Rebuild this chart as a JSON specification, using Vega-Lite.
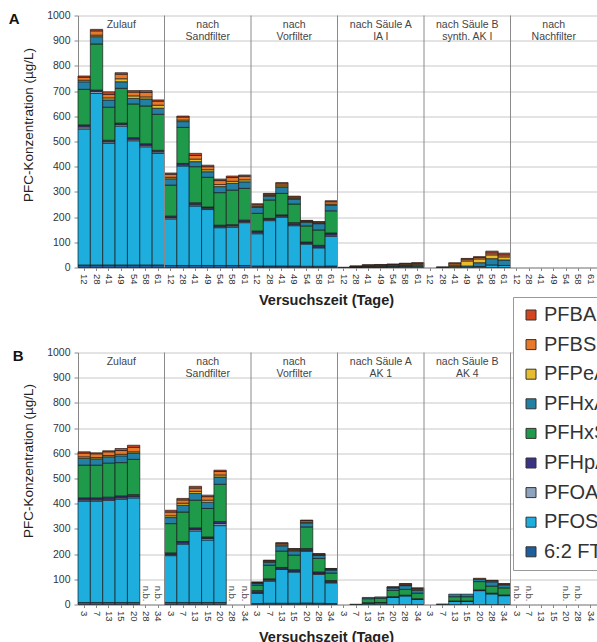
{
 "$schema": "https://vega.github.io/schema/vega-lite/v6.json",
 "padding": {"left": 8, "top": 10.5, "right": 0, "bottom": 0},
 "background": "white",
 "config": {
  "font": "Liberation Sans",
  "view": {"stroke": null},
  "axis": {"labelFont": "Liberation Sans", "titleFont": "Liberation Sans", "labelColor": "#333", "titleColor": "#222", "domainColor": "#888", "tickColor": "#888"},
  "axisY": {"format": "d", "labelFontSize": 10.5, "tickSize": 4, "labelPadding": 4, "titleFontSize": 13.5, "titleFontWeight": "normal", "titlePadding": 11, "grid": true, "gridColor": "#c8c8c8", "labelOverlap": false},
  "axisX": {"labelFontSize": 9.5, "labelPadding": 3, "tickSize": 3, "grid": false, "titleFontSize": 14.5, "titleFontWeight": "bold", "titlePadding": 9},
  "concat": {"spacing": 40}
 },
 "datasets": {
  "order": [
   {"c": "6:2 FTS", "o": 1}, {"c": "PFOS", "o": 2}, {"c": "PFOA", "o": 3}, {"c": "PFHpA", "o": 4}, {"c": "PFHxS", "o": 5},
   {"c": "PFHxA", "o": 6}, {"c": "PFPeA", "o": 7}, {"c": "PFBS", "o": 8}, {"c": "PFBA", "o": 9}
  ],
  "a": [
   {"k": "1|12", "6:2 FTS": 10, "PFOS": 540, "PFOA": 8, "PFHpA": 8, "PFHxS": 141, "PFHxA": 30, "PFPeA": 6, "PFBS": 12, "PFBA": 5},
   {"k": "1|28", "6:2 FTS": 10, "PFOS": 681, "PFOA": 8, "PFHpA": 5, "PFHxS": 183, "PFHxA": 29, "PFPeA": 6, "PFBS": 17, "PFBA": 6},
   {"k": "1|41", "6:2 FTS": 10, "PFOS": 483, "PFOA": 6, "PFHpA": 6, "PFHxS": 131, "PFHxA": 29, "PFPeA": 8, "PFBS": 14, "PFBA": 10},
   {"k": "1|49", "6:2 FTS": 10, "PFOS": 551, "PFOA": 6, "PFHpA": 6, "PFHxS": 138, "PFHxA": 26, "PFPeA": 12, "PFBS": 18, "PFBA": 6},
   {"k": "1|54", "6:2 FTS": 10, "PFOS": 493, "PFOA": 6, "PFHpA": 6, "PFHxS": 134, "PFHxA": 22, "PFPeA": 10, "PFBS": 15, "PFBA": 6},
   {"k": "1|58", "6:2 FTS": 10, "PFOS": 469, "PFOA": 6, "PFHpA": 6, "PFHxS": 150, "PFHxA": 28, "PFPeA": 8, "PFBS": 18, "PFBA": 7},
   {"k": "1|61", "6:2 FTS": 10, "PFOS": 443, "PFOA": 6, "PFHpA": 6, "PFHxS": 143, "PFHxA": 24, "PFPeA": 12, "PFBS": 16, "PFBA": 5},
   {"k": "2|12", "6:2 FTS": 8, "PFOS": 185, "PFOA": 5, "PFHpA": 6, "PFHxS": 123, "PFHxA": 25, "PFPeA": 6, "PFBS": 12, "PFBA": 5},
   {"k": "2|28", "6:2 FTS": 8, "PFOS": 395, "PFOA": 4, "PFHpA": 6, "PFHxS": 143, "PFHxA": 23, "PFPeA": 6, "PFBS": 12, "PFBA": 4},
   {"k": "2|41", "6:2 FTS": 8, "PFOS": 236, "PFOA": 5, "PFHpA": 8, "PFHxS": 143, "PFHxA": 20, "PFPeA": 10, "PFBS": 15, "PFBA": 8},
   {"k": "2|49", "6:2 FTS": 8, "PFOS": 222, "PFOA": 5, "PFHpA": 5, "PFHxS": 118, "PFHxA": 22, "PFPeA": 8, "PFBS": 12, "PFBA": 6},
   {"k": "2|54", "6:2 FTS": 8, "PFOS": 150, "PFOA": 4, "PFHpA": 6, "PFHxS": 129, "PFHxA": 24, "PFPeA": 8, "PFBS": 16, "PFBA": 6},
   {"k": "2|58", "6:2 FTS": 8, "PFOS": 152, "PFOA": 5, "PFHpA": 5, "PFHxS": 137, "PFHxA": 27, "PFPeA": 8, "PFBS": 15, "PFBA": 6},
   {"k": "2|61", "6:2 FTS": 8, "PFOS": 170, "PFOA": 4, "PFHpA": 6, "PFHxS": 126, "PFHxA": 26, "PFPeA": 8, "PFBS": 14, "PFBA": 5},
   {"k": "3|12", "6:2 FTS": 6, "PFOS": 128, "PFOA": 4, "PFHpA": 7, "PFHxS": 70, "PFHxA": 25, "PFPeA": 3, "PFBS": 6, "PFBA": 4},
   {"k": "3|28", "6:2 FTS": 6, "PFOS": 180, "PFOA": 4, "PFHpA": 5, "PFHxS": 73, "PFHxA": 15, "PFPeA": 3, "PFBS": 5, "PFBA": 3},
   {"k": "3|41", "6:2 FTS": 6, "PFOS": 194, "PFOA": 4, "PFHpA": 5, "PFHxS": 85, "PFHxA": 25, "PFPeA": 5, "PFBS": 8, "PFBA": 5},
   {"k": "3|49", "6:2 FTS": 6, "PFOS": 160, "PFOA": 4, "PFHpA": 8, "PFHxS": 74, "PFHxA": 20, "PFPeA": 3, "PFBS": 5, "PFBA": 3},
   {"k": "3|54", "6:2 FTS": 5, "PFOS": 88, "PFOA": 3, "PFHpA": 5, "PFHxS": 64, "PFHxA": 15, "PFPeA": 2, "PFBS": 3, "PFBA": 2},
   {"k": "3|58", "6:2 FTS": 5, "PFOS": 73, "PFOA": 3, "PFHpA": 7, "PFHxS": 61, "PFHxA": 25, "PFPeA": 2, "PFBS": 4, "PFBA": 2},
   {"k": "3|61", "6:2 FTS": 6, "PFOS": 118, "PFOA": 5, "PFHpA": 8, "PFHxS": 88, "PFHxA": 22, "PFPeA": 4, "PFBS": 10, "PFBA": 4},
   {"k": "4|12", "PFBS": 1},
   {"k": "4|28", "PFHxS": 1, "PFHxA": 1, "PFPeA": 1, "PFBS": 2, "PFBA": 1},
   {"k": "4|41", "PFHxS": 2, "PFHxA": 2, "PFPeA": 2, "PFBS": 3, "PFBA": 2},
   {"k": "4|49", "PFHxS": 2, "PFHxA": 3, "PFPeA": 2, "PFBS": 3, "PFBA": 2},
   {"k": "4|54", "PFHxS": 3, "PFHxA": 3, "PFPeA": 3, "PFBS": 3, "PFBA": 2},
   {"k": "4|58", "PFHxS": 4, "PFHxA": 4, "PFPeA": 3, "PFBS": 4, "PFBA": 2},
   {"k": "4|61", "PFHxS": 5, "PFHxA": 4, "PFPeA": 4, "PFBS": 4, "PFBA": 2},
   {"k": "5|28", "PFPeA": 1, "PFBS": 1},
   {"k": "5|41", "PFHxA": 4, "PFPeA": 5, "PFBS": 6, "PFBA": 4},
   {"k": "5|49", "PFHxA": 6, "PFPeA": 20, "PFBS": 7, "PFBA": 3},
   {"k": "5|54", "PFOS": 4, "PFHxA": 15, "PFPeA": 15, "PFBS": 6, "PFBA": 3},
   {"k": "5|58", "PFOS": 10, "PFHxA": 25, "PFPeA": 15, "PFBS": 8, "PFBA": 7},
   {"k": "5|61", "PFOS": 8, "PFHxA": 22, "PFPeA": 12, "PFBS": 8, "PFBA": 7}
  ],
  "b": [
   {"k": "1|3", "6:2 FTS": 8, "PFOS": 402, "PFOA": 5, "PFHpA": 8, "PFHxS": 130, "PFHxA": 27, "PFPeA": 6, "PFBS": 15, "PFBA": 5},
   {"k": "1|7", "6:2 FTS": 8, "PFOS": 402, "PFOA": 5, "PFHpA": 8, "PFHxS": 130, "PFHxA": 25, "PFPeA": 5, "PFBS": 15, "PFBA": 4},
   {"k": "1|13", "6:2 FTS": 8, "PFOS": 405, "PFOA": 5, "PFHpA": 8, "PFHxS": 135, "PFHxA": 25, "PFPeA": 5, "PFBS": 15, "PFBA": 4},
   {"k": "1|15", "6:2 FTS": 8, "PFOS": 410, "PFOA": 5, "PFHpA": 8, "PFHxS": 132, "PFHxA": 27, "PFPeA": 6, "PFBS": 15, "PFBA": 8},
   {"k": "1|20", "6:2 FTS": 8, "PFOS": 415, "PFOA": 5, "PFHpA": 8, "PFHxS": 140, "PFHxA": 25, "PFPeA": 5, "PFBS": 18, "PFBA": 8},
   {"k": "2|3", "6:2 FTS": 8, "PFOS": 186, "PFOA": 4, "PFHpA": 7, "PFHxS": 116, "PFHxA": 24, "PFPeA": 7, "PFBS": 15, "PFBA": 7},
   {"k": "2|7", "6:2 FTS": 8, "PFOS": 232, "PFOA": 4, "PFHpA": 6, "PFHxS": 117, "PFHxA": 27, "PFPeA": 8, "PFBS": 13, "PFBA": 6},
   {"k": "2|13", "6:2 FTS": 8, "PFOS": 284, "PFOA": 6, "PFHpA": 6, "PFHxS": 110, "PFHxA": 27, "PFPeA": 8, "PFBS": 13, "PFBA": 7},
   {"k": "2|15", "6:2 FTS": 8, "PFOS": 248, "PFOA": 6, "PFHpA": 6, "PFHxS": 113, "PFHxA": 25, "PFPeA": 8, "PFBS": 14, "PFBA": 6},
   {"k": "2|20", "6:2 FTS": 8, "PFOS": 305, "PFOA": 8, "PFHpA": 8, "PFHxS": 148, "PFHxA": 29, "PFPeA": 8, "PFBS": 14, "PFBA": 5},
   {"k": "3|3", "6:2 FTS": 4, "PFOS": 40, "PFOA": 3, "PFHpA": 8, "PFHxS": 22, "PFHxA": 8, "PFPeA": 1, "PFBS": 2, "PFBA": 1},
   {"k": "3|7", "6:2 FTS": 5, "PFOS": 88, "PFOA": 4, "PFHpA": 5, "PFHxS": 54, "PFHxA": 12, "PFPeA": 2, "PFBS": 4, "PFBA": 2},
   {"k": "3|13", "6:2 FTS": 5, "PFOS": 134, "PFOA": 3, "PFHpA": 5, "PFHxS": 65, "PFHxA": 21, "PFPeA": 4, "PFBS": 6, "PFBA": 2},
   {"k": "3|15", "6:2 FTS": 5, "PFOS": 124, "PFOA": 3, "PFHpA": 6, "PFHxS": 58, "PFHxA": 17, "PFPeA": 3, "PFBS": 4, "PFBA": 2},
   {"k": "3|20", "6:2 FTS": 6, "PFOS": 205, "PFOA": 4, "PFHpA": 7, "PFHxS": 86, "PFHxA": 16, "PFPeA": 3, "PFBS": 6, "PFBA": 2},
   {"k": "3|28", "6:2 FTS": 5, "PFOS": 114, "PFOA": 4, "PFHpA": 6, "PFHxS": 54, "PFHxA": 12, "PFPeA": 2, "PFBS": 3, "PFBA": 2},
   {"k": "3|34", "6:2 FTS": 4, "PFOS": 82, "PFOA": 3, "PFHpA": 6, "PFHxS": 30, "PFHxA": 12, "PFPeA": 2, "PFBS": 3, "PFBA": 1},
   {"k": "4|7", "PFHxS": 1},
   {"k": "4|13", "PFOS": 5, "PFHpA": 2, "PFHxS": 16, "PFHxA": 5},
   {"k": "4|15", "PFOS": 6, "PFHpA": 2, "PFHxS": 17, "PFHxA": 5},
   {"k": "4|20", "PFOS": 28, "PFHpA": 3, "PFHxS": 25, "PFHxA": 10, "PFBS": 3, "PFBA": 1},
   {"k": "4|28", "PFOS": 34, "PFHpA": 3, "PFHxS": 23, "PFHxA": 15, "PFPeA": 2, "PFBS": 4, "PFBA": 2},
   {"k": "4|34", "PFOS": 20, "PFHpA": 3, "PFHxS": 22, "PFHxA": 12, "PFPeA": 2, "PFBS": 5, "PFBA": 2},
   {"k": "5|7", "PFHxS": 2},
   {"k": "5|13", "PFOS": 12, "PFHpA": 2, "PFHxS": 17, "PFHxA": 10},
   {"k": "5|15", "PFOS": 12, "PFHpA": 2, "PFHxS": 17, "PFHxA": 10},
   {"k": "5|20", "PFOS": 55, "PFHpA": 3, "PFHxS": 33, "PFHxA": 10, "PFBS": 3},
   {"k": "5|28", "PFOS": 42, "PFHpA": 3, "PFHxS": 28, "PFHxA": 17, "PFBS": 4, "PFBA": 2},
   {"k": "5|34", "PFOS": 35, "PFHpA": 3, "PFHxS": 28, "PFHxA": 12, "PFBS": 3, "PFBA": 2}
  ]
 },
 "vconcat": [
  {
   "width": 519, "height": 252,
   "title": {"text": "A", "anchor": "start", "frame": "bounds", "fontSize": 15, "fontWeight": "bold", "offset": -16, "dx": -13, "color": "#111"},
   "layer": [
    {
     "data": {"name": "a"},
     "transform": [
      {"fold": ["6:2 FTS", "PFOS", "PFOA", "PFHpA", "PFHxS", "PFHxA", "PFPeA", "PFBS", "PFBA"], "as": ["c", "v"]},
      {"filter": "datum.v > 0"},
      {"lookup": "c", "from": {"data": {"name": "order"}, "key": "c", "fields": ["o"]}}
     ],
     "mark": {"type": "bar", "stroke": "#1a1a1a", "strokeWidth": 0.7},
     "encoding": {
      "x": {"field": "k", "type": "nominal",
       "scale": {"domain": ["1|12","1|28","1|41","1|49","1|54","1|58","1|61","2|12","2|28","2|41","2|49","2|54","2|58","2|61","3|12","3|28","3|41","3|49","3|54","3|58","3|61","4|12","4|28","4|41","4|49","4|54","4|58","4|61","5|12","5|28","5|41","5|49","5|54","5|58","5|61","6|12","6|28","6|41","6|49","6|54","6|58","6|61"], "paddingInner": 0, "paddingOuter": 0},
       "axis": {"title": "Versuchszeit (Tage)", "labelExpr": "split(datum.value, '|')[1]", "labelAngle": 90, "titleX": 248}},
      "y": {"field": "v", "type": "quantitative", "stack": "zero", "scale": {"domain": [0, 1000], "nice": false},
       "axis": {"title": "PFC-Konzentration (µg/L)", "values": [0,100,200,300,400,500,600,700,800,900,1000], "tickCount": 12, "labelOverlap": false, "titleY": 109}},
      "color": {"field": "c", "type": "nominal",
       "scale": {"domain": ["PFBA","PFBS","PFPeA","PFHxA","PFHxS","PFHpA","PFOA","PFOS","6:2 FTS"], "range": ["#d2451e","#e8792b","#e6bd2e","#237fa3","#1f9a4b","#3a3283","#8ea3bd","#1daedd","#1f5e9c"]},
       "legend": {"orient": "none", "legendX": 435, "legendY": 281.5, "title": null, "symbolType": "square", "symbolSize": 100, "symbolStrokeColor": "#333", "symbolStrokeWidth": 1, "labelFontSize": 20, "labelColor": "#333", "labelFont": "Liberation Sans", "rowPadding": 9.6, "padding": 8, "strokeColor": "#999", "fillColor": "white", "labelOffset": 3, "labelLimit": 0}},
      "order": {"field": "o", "type": "quantitative"}
     }
    },
    {
     "data": {"values": [{"k": "2|12"}, {"k": "3|12"}, {"k": "4|12"}, {"k": "5|12"}, {"k": "6|12"}]},
     "mark": {"type": "rule", "color": "#8a8a8a", "strokeWidth": 1},
     "encoding": {
      "x": {"field": "k", "type": "nominal", "bandPosition": 0,
       "scale": {"domain": ["1|12","1|28","1|41","1|49","1|54","1|58","1|61","2|12","2|28","2|41","2|49","2|54","2|58","2|61","3|12","3|28","3|41","3|49","3|54","3|58","3|61","4|12","4|28","4|41","4|49","4|54","4|58","4|61","5|12","5|28","5|41","5|49","5|54","5|58","5|61","6|12","6|28","6|41","6|49","6|54","6|58","6|61"], "paddingInner": 0, "paddingOuter": 0},
       "axis": {"title": "Versuchszeit (Tage)", "labelExpr": "split(datum.value, '|')[1]", "labelAngle": 90, "titleX": 248}},
      "y": {"datum": 0, "type": "quantitative", "scale": {"domain": [0, 1000], "nice": false},
       "axis": {"title": "PFC-Konzentration (µg/L)", "values": [0,100,200,300,400,500,600,700,800,900,1000], "tickCount": 12, "labelOverlap": false, "titleY": 109}},
      "y2": {"datum": 1000}
     }
    },
    {
     "data": {"values": [
      {"k": "1|49", "h": ["Zulauf"]}, {"k": "2|49", "h": ["nach", "Sandfilter"]}, {"k": "3|49", "h": ["nach", "Vorfilter"]},
      {"k": "4|49", "h": ["nach Säule A", "IA I"]}, {"k": "5|49", "h": ["nach Säule B", "synth. AK I"]}, {"k": "6|49", "h": ["nach", "Nachfilter"]}
     ]},
     "mark": {"type": "text", "baseline": "top", "align": "center", "fontSize": 10.5, "lineHeight": 12, "color": "#444"},
     "encoding": {
      "x": {"field": "k", "type": "nominal",
       "scale": {"domain": ["1|12","1|28","1|41","1|49","1|54","1|58","1|61","2|12","2|28","2|41","2|49","2|54","2|58","2|61","3|12","3|28","3|41","3|49","3|54","3|58","3|61","4|12","4|28","4|41","4|49","4|54","4|58","4|61","5|12","5|28","5|41","5|49","5|54","5|58","5|61","6|12","6|28","6|41","6|49","6|54","6|58","6|61"], "paddingInner": 0, "paddingOuter": 0},
       "axis": {"title": "Versuchszeit (Tage)", "labelExpr": "split(datum.value, '|')[1]", "labelAngle": 90, "titleX": 248}},
      "y": {"datum": 982, "type": "quantitative", "scale": {"domain": [0, 1000], "nice": false},
       "axis": {"title": "PFC-Konzentration (µg/L)", "values": [0,100,200,300,400,500,600,700,800,900,1000], "tickCount": 12, "labelOverlap": false, "titleY": 109}},
      "text": {"field": "h"}
     }
    }
   ]
  },
  {
   "width": 519, "height": 252,
   "title": {"text": "B", "anchor": "start", "frame": "bounds", "fontSize": 15, "fontWeight": "bold", "offset": -16, "dx": -9, "color": "#111"},
   "layer": [
    {
     "data": {"name": "b"},
     "transform": [
      {"fold": ["6:2 FTS", "PFOS", "PFOA", "PFHpA", "PFHxS", "PFHxA", "PFPeA", "PFBS", "PFBA"], "as": ["c", "v"]},
      {"filter": "datum.v > 0"},
      {"lookup": "c", "from": {"data": {"name": "order"}, "key": "c", "fields": ["o"]}}
     ],
     "mark": {"type": "bar", "stroke": "#1a1a1a", "strokeWidth": 0.7},
     "encoding": {
      "x": {"field": "k", "type": "nominal",
       "scale": {"domain": ["1|3","1|7","1|13","1|15","1|20","1|28","1|34","2|3","2|7","2|13","2|15","2|20","2|28","2|34","3|3","3|7","3|13","3|15","3|20","3|28","3|34","4|3","4|7","4|13","4|15","4|20","4|28","4|34","5|3","5|7","5|13","5|15","5|20","5|28","5|34","6|3","6|7","6|13","6|15","6|20","6|28","6|34"], "paddingInner": 0, "paddingOuter": 0},
       "axis": {"title": "Versuchszeit (Tage)", "labelExpr": "split(datum.value, '|')[1]", "labelAngle": 90, "titleX": 248}},
      "y": {"field": "v", "type": "quantitative", "stack": "zero", "scale": {"domain": [0, 1000], "nice": false},
       "axis": {"title": "PFC-Konzentration (µg/L)", "values": [0,100,200,300,400,500,600,700,800,900,1000], "tickCount": 12, "labelOverlap": false, "titleY": 108}},
      "color": {"field": "c", "type": "nominal",
       "scale": {"domain": ["PFBA","PFBS","PFPeA","PFHxA","PFHxS","PFHpA","PFOA","PFOS","6:2 FTS"], "range": ["#d2451e","#e8792b","#e6bd2e","#237fa3","#1f9a4b","#3a3283","#8ea3bd","#1daedd","#1f5e9c"]},
       "legend": {"orient": "none", "legendX": 435, "legendY": 281.5, "title": null, "symbolType": "square", "symbolSize": 100, "symbolStrokeColor": "#333", "symbolStrokeWidth": 1, "labelFontSize": 20, "labelColor": "#333", "labelFont": "Liberation Sans", "rowPadding": 9.6, "padding": 8, "strokeColor": "#999", "fillColor": "white", "labelOffset": 3, "labelLimit": 0}},
      "order": {"field": "o", "type": "quantitative"}
     }
    },
    {
     "data": {"values": [{"k": "2|3"}, {"k": "3|3"}, {"k": "4|3"}, {"k": "5|3"}, {"k": "6|3"}]},
     "mark": {"type": "rule", "color": "#8a8a8a", "strokeWidth": 1},
     "encoding": {
      "x": {"field": "k", "type": "nominal", "bandPosition": 0,
       "scale": {"domain": ["1|3","1|7","1|13","1|15","1|20","1|28","1|34","2|3","2|7","2|13","2|15","2|20","2|28","2|34","3|3","3|7","3|13","3|15","3|20","3|28","3|34","4|3","4|7","4|13","4|15","4|20","4|28","4|34","5|3","5|7","5|13","5|15","5|20","5|28","5|34","6|3","6|7","6|13","6|15","6|20","6|28","6|34"], "paddingInner": 0, "paddingOuter": 0},
       "axis": {"title": "Versuchszeit (Tage)", "labelExpr": "split(datum.value, '|')[1]", "labelAngle": 90, "titleX": 248}},
      "y": {"datum": 0, "type": "quantitative", "scale": {"domain": [0, 1000], "nice": false},
       "axis": {"title": "PFC-Konzentration (µg/L)", "values": [0,100,200,300,400,500,600,700,800,900,1000], "tickCount": 12, "labelOverlap": false, "titleY": 108}},
      "y2": {"datum": 1000}
     }
    },
    {
     "data": {"values": [
      {"k": "1|15", "h": ["Zulauf"]}, {"k": "2|15", "h": ["nach", "Sandfilter"]}, {"k": "3|15", "h": ["nach", "Vorfilter"]},
      {"k": "4|15", "h": ["nach Säule A", "AK 1"]}, {"k": "5|15", "h": ["nach Säule B", "AK 4"]}
     ]},
     "mark": {"type": "text", "baseline": "top", "align": "center", "fontSize": 10.5, "lineHeight": 12, "color": "#444"},
     "encoding": {
      "x": {"field": "k", "type": "nominal",
       "scale": {"domain": ["1|3","1|7","1|13","1|15","1|20","1|28","1|34","2|3","2|7","2|13","2|15","2|20","2|28","2|34","3|3","3|7","3|13","3|15","3|20","3|28","3|34","4|3","4|7","4|13","4|15","4|20","4|28","4|34","5|3","5|7","5|13","5|15","5|20","5|28","5|34","6|3","6|7","6|13","6|15","6|20","6|28","6|34"], "paddingInner": 0, "paddingOuter": 0},
       "axis": {"title": "Versuchszeit (Tage)", "labelExpr": "split(datum.value, '|')[1]", "labelAngle": 90, "titleX": 248}},
      "y": {"datum": 982, "type": "quantitative", "scale": {"domain": [0, 1000], "nice": false},
       "axis": {"title": "PFC-Konzentration (µg/L)", "values": [0,100,200,300,400,500,600,700,800,900,1000], "tickCount": 12, "labelOverlap": false, "titleY": 108}},
      "text": {"field": "h"}
     }
    },
    {
     "data": {"values": [{"k": "1|28"}, {"k": "1|34"}, {"k": "2|28"}, {"k": "2|34"}, {"k": "6|3"}, {"k": "6|7"}, {"k": "6|20"}, {"k": "6|28"}]},
     "mark": {"type": "text", "angle": 90, "align": "right", "baseline": "middle", "dx": -3, "fontSize": 9.5, "color": "#444", "text": "n.b."},
     "encoding": {
      "x": {"field": "k", "type": "nominal",
       "scale": {"domain": ["1|3","1|7","1|13","1|15","1|20","1|28","1|34","2|3","2|7","2|13","2|15","2|20","2|28","2|34","3|3","3|7","3|13","3|15","3|20","3|28","3|34","4|3","4|7","4|13","4|15","4|20","4|28","4|34","5|3","5|7","5|13","5|15","5|20","5|28","5|34","6|3","6|7","6|13","6|15","6|20","6|28","6|34"], "paddingInner": 0, "paddingOuter": 0},
       "axis": {"title": "Versuchszeit (Tage)", "labelExpr": "split(datum.value, '|')[1]", "labelAngle": 90, "titleX": 248}},
      "y": {"datum": 0, "type": "quantitative", "scale": {"domain": [0, 1000], "nice": false},
       "axis": {"title": "PFC-Konzentration (µg/L)", "values": [0,100,200,300,400,500,600,700,800,900,1000], "tickCount": 12, "labelOverlap": false, "titleY": 108}}
     }
    }
   ]
  }
 ]
}
